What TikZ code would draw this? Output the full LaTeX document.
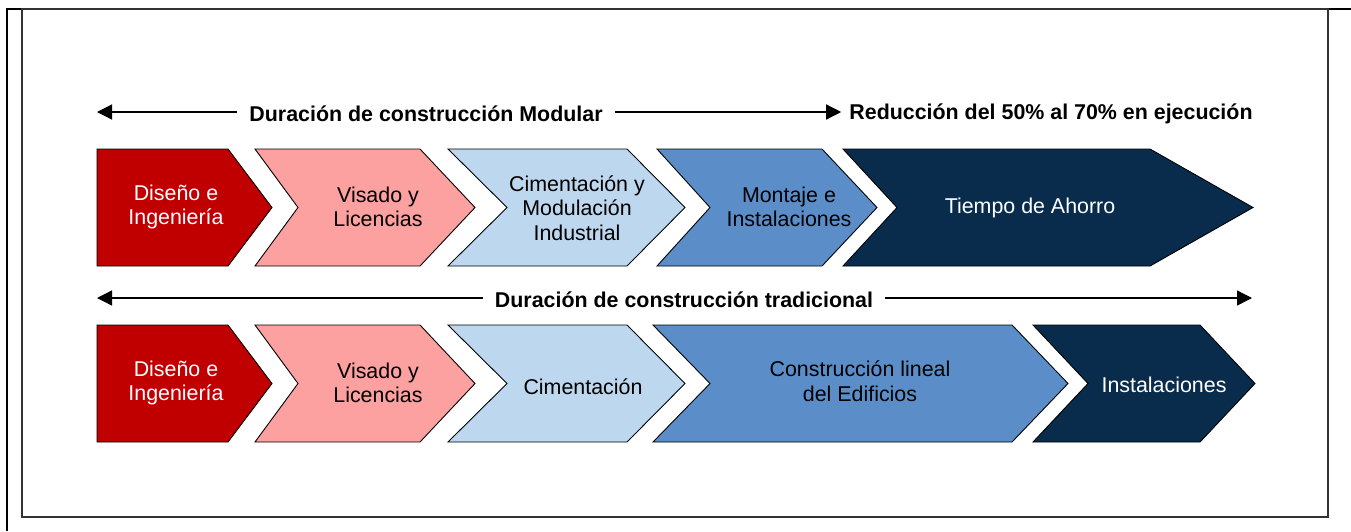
\documentclass[tikz,border=0pt]{standalone}
\usepackage{fontspec}
\setmainfont{Liberation Sans}
\usetikzlibrary{arrows.meta}

\definecolor{disred}{HTML}{C00000}
\definecolor{vispink}{HTML}{FCA0A0}
\definecolor{cimblue}{HTML}{BDD7EE}
\definecolor{monblue}{HTML}{5B8EC8}
\definecolor{ahonavy}{HTML}{0A2C4C}

\begin{document}
\begin{tikzpicture}[x=1pt,y=-1pt,
	chev/.style={draw=black,line width=0.9pt,line join=miter},
	txt/.style={align=center,inner sep=0pt,font=\fontsize{21.4}{24.5}\selectfont},
	hdr/.style={inner ysep=0pt,inner xsep=12pt,font=\bfseries\fontsize{21.4}{25}\selectfont},
	dur/.style={line width=1.3pt,-{Triangle[length=15pt,width=15pt]}}]
	\useasboundingbox (0,0) rectangle (1351,531);

	% frame
	\draw[line width=2pt] (7,531) -- (7,9) -- (1351,9);
	\draw[line width=1.4pt,black!80] (22,9) rectangle (1328,517);

	% modular, heading
	\node[hdr] (modtxt) at (426,113.5) {Duración de construcción Modular};
	\node[hdr,inner xsep=8pt] (redtxt) at (1051,113.5) {Reducción del 50\% al 70\% en ejecución};
	\coordinate (modL) at (97,112);
	\draw[dur] (modtxt.west |- modL) -- (modL);
	\draw[dur] (modtxt.east |- modL) -- (redtxt.west |- modL);

	% modular, chevrons (y = 149 .. 266)
	\filldraw[chev,fill=disred] (97,149) -- (228,149) -- (272,207.5) -- (228,266) -- (97,266) -- cycle;
	\filldraw[chev,fill=vispink] (255,149) -- (420,149) -- (475,207.5) -- (420,266) -- (255,266) -- (298,207.5) -- cycle;
	\filldraw[chev,fill=cimblue] (448,149) -- (627,149) -- (685,207.5) -- (627,266) -- (448,266) -- (507,207.5) -- cycle;
	\filldraw[chev,fill=monblue] (657,149) -- (822,149) -- (877,207.5) -- (822,266) -- (657,266) -- (710,207.5) -- cycle;
	\filldraw[chev,fill=ahonavy] (843,149) -- (1150,149) -- (1253,207.5) -- (1150,266) -- (843,266) -- (897,207.5) -- cycle;

	\node[txt,white] (dis1) at (176,207) {Diseño e\\Ingeniería};
	\node[txt] (vis1) at (378,207) {Visado y\\Licencias};
	\node[txt] (cim1) at (577,208) {Cimentación y\\Modulación\\Industrial};
	\node[txt] (mon1) at (789,207) {Montaje e\\Instalaciones};
	\node[txt,white] (aho1) at (1030,208) {Tiempo de Ahorro};

	% tradicional, heading
	\node[hdr] (tradtxt) at (684,299.5) {Duración de construcción tradicional};
	\coordinate (tradL) at (97,298);
	\coordinate (tradR) at (1252,298);
	\draw[dur] (tradtxt.west |- tradL) -- (tradL);
	\draw[dur] (tradtxt.east |- tradR) -- (tradR);

	% tradicional, chevrons (y = 325 .. 442)
	\filldraw[chev,fill=disred] (97,325) -- (228,325) -- (272,383.5) -- (228,442) -- (97,442) -- cycle;
	\filldraw[chev,fill=vispink] (255,325) -- (420,325) -- (475,383.5) -- (420,442) -- (255,442) -- (298,383.5) -- cycle;
	\filldraw[chev,fill=cimblue] (448,325) -- (627,325) -- (685,383.5) -- (627,442) -- (448,442) -- (507,383.5) -- cycle;
	\filldraw[chev,fill=monblue] (653,325) -- (1012,325) -- (1068,383.5) -- (1012,442) -- (653,442) -- (710,383.5) -- cycle;
	\filldraw[chev,fill=ahonavy] (1033,325) -- (1200,325) -- (1255,383.5) -- (1200,442) -- (1033,442) -- (1088,383.5) -- cycle;

	\node[txt,white] (dis2) at (176,383) {Diseño e\\Ingeniería};
	\node[txt] (vis2) at (378,383) {Visado y\\Licencias};
	\node[txt] (cim2) at (583,387) {Cimentación};
	\node[txt] (con2) at (860,381) {Construcción lineal\\del Edificios};
	\node[txt,white] (ins2) at (1164,385) {Instalaciones};
\end{tikzpicture}
\end{document}
